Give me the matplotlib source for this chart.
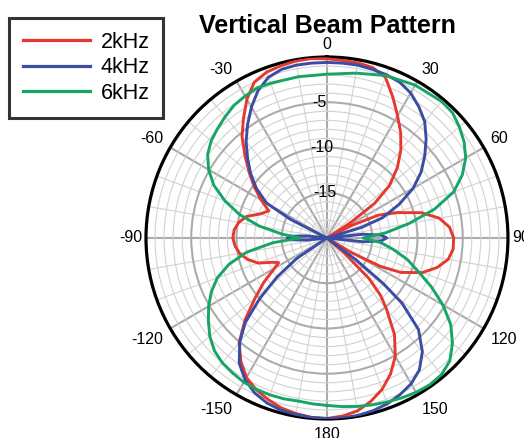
import numpy as np
import matplotlib
matplotlib.use("Agg")
import matplotlib.pyplot as plt

# ---------------- data (angle in degrees, level in dB) ----------------
red_ang = [-180, -175, -170, -165, -160, -155, -150, -145, -140, -135, -130, -125, -120, -117, -114,
           -110, -105, -100, -95, -90, -85, -80, -75, -70, -65, -60, -55, -50, -45, -40, -35, -30,
           -25, -20, -15, -10, -5, 0, 5, 10, 15, 20, 25, 30, 35, 40, 45, 50, 54, 57, 60, 63, 66, 70,
           75, 80, 85, 90, 95, 100, 105, 110, 115, 118, 121, 124, 129, 131, 134, 137, 140, 145, 150,
           155, 160, 165, 170, 175, 180]
red_db = [-0.05, -0.1, -0.3, -0.55, -1.0, -1.5, -2.2, -3.4, -4.9, -7.2, -9.6, -11.5, -13.3, -14.0, -13.4,
          -11.9, -10.9, -10.2, -9.8, -9.6, -9.7, -10.1, -10.8, -12.2, -12.9, -11.6, -10.2, -8.8, -7.2, -5.4, -3.9, -2.3,
          -1.0, -0.5, -0.3, -0.15, -0.1, -0.2, -0.3, -0.35, -0.5, -1.1, -2.8, -4.4, -5.8, -7.3, -9.0, -11.0, -13.5, -17, -20, -17, -13.8, -11.8,
          -9.2, -7.4, -6.4, -6.0, -6.0, -6.4, -7.4, -8.8, -11.0, -13.3, -17, -20, -20, -17.5, -13.5, -11.3, -9.8, -7.0, -4.9,
          -3.4, -2.2, -1.3, -0.6, -0.25, -0.05]

blue_ang = [-180, -175, -170, -165, -160, -155, -150, -145, -140, -136, -132, -128, -124, -120, -100, -96,
            -93, -90, -87, -84, -80, -66, -63, -60, -55, -50, -45, -40, -35, -30, -25, -20, -15, -10, -5,
            0, 5, 10, 15, 20, 25, 30, 35, 40, 45, 50, 55, 60, 65, 70, 73, 76, 80, 84, 87, 90, 93, 96, 100,
            125, 127, 129, 131, 135, 140, 145, 150, 155, 160, 165, 170, 175, 180]
blue_db = [-0.05, -0.1, -0.2, -0.3, -0.6, -1.1, -1.9, -3.1, -5.0, -7.0, -10.0, -13.0, -16, -20, -20, -17.8,
           -16.2, -15.6, -16.2, -17.8, -20, -20, -15.5, -12.3, -10.5, -9.0, -7.6, -6.1, -4.7, -3.3, -2.0, -1.1, -0.7, -0.6, -0.6,
           -0.6, -0.6, -0.6, -0.7, -0.8, -1.0, -1.5, -2.3, -3.2, -4.5, -5.9, -7.3, -9.0, -11.2, -13.5, -16, -20, -20, -16.0, -14.0, -13.4, -14.0, -16.0, -20,
           -20, -16, -12, -9.0, -5.7, -3.6, -2.2, -1.4, -0.9, -0.5, -0.25, -0.1, -0.05, -0.05]

green_ang = [-180, -175, -170, -165, -160, -155, -150, -145, -140, -135, -130, -125, -120, -115, -110,
             -105, -100, -95, -90, -85, -80, -75, -70, -65, -60, -55, -50, -45, -40, -35, -30, -25, -20,
             -10, 0, 10, 20, 30, 40, 45, 50, 55, 60, 65, 70, 75, 80, 85, 90, 95, 100, 105, 110, 115, 120,
             125, 130, 135, 140, 145, 150, 155, 160, 165, 170, 175, 180]
green_db = [-1.5, -1.6, -1.7, -1.6, -1.55, -1.55, -1.6, -1.8, -2.0, -2.4, -3.1, -4.0, -4.9, -5.9, -7.1,
            -8.8, -11.0, -14.0, -17.0, -15.0, -12.4, -10.0, -8.0, -6.2, -4.9, -3.9, -3.3, -2.9, -2.5, -2.1, -1.9, -1.7, -1.8,
            -1.9, -1.9, -1.5, -0.9, -0.5, -0.3, -0.4, -0.9, -1.5, -2.3, -3.5, -5.1, -7.7, -10.8, -13.5, -16.0, -14.0, -12.5, -10.8, -9.3, -7.3, -5.2,
            -3.3, -1.9, -0.8, -0.3, -0.2, -0.3, -0.5, -0.7, -0.9, -1.1, -1.3, -1.5]

series_labels = ["2kHz", "4kHz", "6kHz"]
series_colors = ["#E5392F", "#3A4CA3", "#16A565"]

theta_ticks = list(range(0, 360, 10))
theta_major_labels = {0: "0", 30: "30", 60: "60", 90: "90", 120: "120", 150: "150", 180: "180",
                      210: "-150", 240: "-120", 270: "-90", 300: "-60", 330: "-30"}
r_ticks = list(range(-19, 0))
r_label_values = [-5, -10, -15]
title = "Vertical Beam Pattern"

# ---------------- figure ----------------
plt.rcParams['font.family'] = ['Liberation Sans', 'DejaVu Sans']
fig = plt.figure(figsize=(5.24, 4.38), dpi=100)
ax = fig.add_axes([0.2786, 0.0434, 0.6908, 0.8265], projection='polar')
ax.set_theta_zero_location('N')
ax.set_theta_direction(-1)
rmin, rmax = -20, 0
ax.set_ylim(rmin, rmax)

for ang, db, lab, col in zip([red_ang, blue_ang, green_ang], [red_db, blue_db, green_db],
                             series_labels, series_colors):
    ax.plot(np.deg2rad(ang), db, color=col, lw=2.1, label=lab, zorder=3)

ax.set_thetagrids(theta_ticks, [""] * len(theta_ticks))
ax.set_rgrids(r_ticks, [""] * len(r_ticks))

for tick, t in zip(ax.xaxis.get_major_ticks(), theta_ticks):
    g = tick.gridline
    if t % 30 == 0:
        g.set_color('#ababab'); g.set_linewidth(1.5)
    else:
        g.set_color('#d2d2d2'); g.set_linewidth(0.8)
    g.set_linestyle('-')
for tick, v in zip(ax.yaxis.get_major_ticks(), r_ticks):
    g = tick.gridline
    if v % 5 == 0:
        g.set_color('#ababab'); g.set_linewidth(1.5)
    else:
        g.set_color('#d2d2d2'); g.set_linewidth(0.8)
    g.set_linestyle('-')

for v in r_label_values:
    ax.text(np.deg2rad(-3.0), v, str(v), ha='center', va='center', fontsize=11.5, zorder=2)

ax.spines['polar'].set_linewidth(2.3)
ax.spines['polar'].set_color('black')

# angle labels: anchored by quadrant just outside the frame circle
radius_px = 0.6908 * 524 / 2.0
for t, s in theta_major_labels.items():
    a = np.deg2rad(t)
    sx, sy = np.sin(a), np.cos(a)
    ha = 'left' if sx > 0.01 else ('right' if sx < -0.01 else 'center')
    va = 'baseline' if sy > 0.01 else ('top' if sy < -0.01 else 'center')
    label_r_px = 185.0 if t in (90, 270) else 189.0
    r_lab = rmin + (rmax - rmin) * label_r_px / radius_px
    ax.text(a, r_lab, s, ha=ha, va=va, fontsize=11.5, clip_on=False)

fig.text(0.624, 1 - 33 / 438, title, ha='center', va='baseline', fontsize=18, fontweight='bold')

leg = fig.legend(loc='upper left', bbox_to_anchor=(9 / 524, 1 - 18 / 438), borderaxespad=0,
                 fontsize=15.5, handlelength=3.1, handletextpad=0.5, labelspacing=0.2,
                 borderpad=0.65, fancybox=False, frameon=True)
leg.get_frame().set_edgecolor('black')
leg.get_frame().set_linewidth(2.2)
for l in leg.get_lines():
    l.set_linewidth(2.3)

fig.savefig('out.png', dpi=100)
